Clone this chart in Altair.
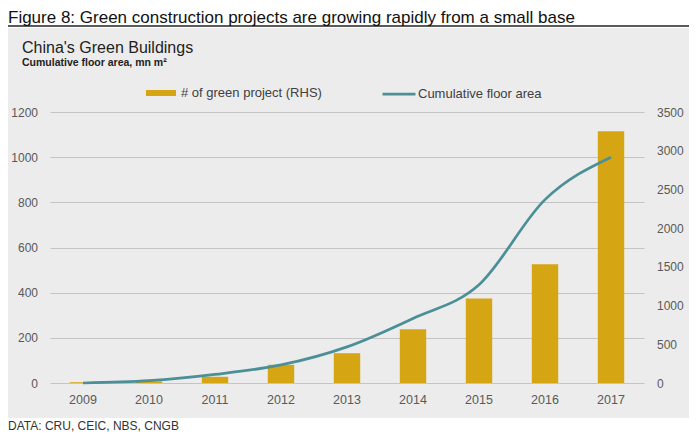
import altair as alt
import pandas as pd

# ---- data ----
years = ["2009", "2010", "2011", "2012", "2013", "2014", "2015", "2016", "2017"]
projects = [10, 20, 80, 235, 385, 695, 1090, 1535, 3250]          # RHS, number of green projects
floor_area = [0, 10, 38, 80, 160, 286, 435, 812, 1000]            # LHS, cumulative floor area, mn m2
left_ticks = [0, 200, 400, 600, 800, 1000, 1200]
right_ticks = [0, 500, 1000, 1500, 2000, 2500, 3000, 3500]
bar_label = "# of green project (RHS)"
line_label = "Cumulative floor area"

FONT = "Liberation Sans"
GOLD = "#d6a514"
TEAL = "#4b8f97"
PANEL = "#ececec"

bar_df = pd.DataFrame({"year": years, "projects": projects, "series": bar_label})
line_df = pd.DataFrame({"year": years, "area": floor_area, "series": line_label})

xenc = alt.X(
    "year:O", sort=years,
    scale=alt.Scale(paddingInner=0.6, paddingOuter=0.3),
    axis=alt.Axis(title=None, labelAngle=0, domain=False, ticks=False, tickSize=0,
                  labelPadding=10, labelFontSize=12.5, labelColor="#595959", labelFont=FONT),
)

bars = alt.Chart(bar_df).mark_bar().encode(
    x=xenc,
    y=alt.Y("projects:Q", scale=alt.Scale(domain=[0, 3500], nice=False),
            axis=alt.Axis(orient="right", values=right_ticks, format="d", grid=False, domain=False,
                          ticks=False, tickSize=0, labelPadding=12.5, title=None,
                          labelFontSize=12, labelColor="#595959", labelFont=FONT)),
    color=alt.Color("series:N", scale=alt.Scale(domain=[bar_label], range=[GOLD]),
                    legend=alt.Legend(orient="none", legendX=96, legendY=-34, direction="horizontal",
                                      title=None, symbolType="M-1,-0.2H1V0.2H-1Z", symbolSize=900,
                                      symbolStrokeWidth=0, labelFont=FONT, labelFontSize=13,
                                      labelColor="#404040", labelOffset=5, padding=0)),
)

line = alt.Chart(line_df).mark_line(strokeWidth=2.75, interpolate="monotone").encode(
    x=xenc,
    y=alt.Y("area:Q", scale=alt.Scale(domain=[0, 1200], nice=False),
            axis=alt.Axis(orient="left", values=left_ticks, format="d", grid=True, gridColor="#c4c4c4",
                          gridWidth=1, domain=False, ticks=False, tickSize=0, labelPadding=12.5,
                          title=None, labelFontSize=12, labelColor="#595959", labelFont=FONT)),
    stroke=alt.Stroke("series:N", scale=alt.Scale(domain=[line_label], range=[TEAL]),
                      legend=alt.Legend(orient="none", legendX=331, legendY=-36, direction="horizontal",
                                        title=None, symbolType="stroke", symbolSize=1089,
                                        symbolStrokeWidth=2.75, labelFont=FONT, labelFontSize=13,
                                        labelColor="#404040", labelOffset=1, padding=0)),
)


def blank(x, x2, y, y2):
    return alt.Chart(pd.DataFrame({"a": [0]})).mark_rect(color="white").encode(
        x=alt.value(x), x2=alt.value(x2), y=alt.value(y), y2=alt.value(y2))


def text(txt, x, y, size, weight="normal", color="#222222"):
    return alt.Chart(pd.DataFrame({"t": [txt]})).mark_text(
        align="left", baseline="alphabetic", font=FONT, fontSize=size,
        fontWeight=weight, color=color).encode(x=alt.value(x), y=alt.value(y), text="t:N")


top_white = blank(-42, 639, -104, -84)
bottom_white = blank(-42, 639, 306, 321)
head_rule = alt.Chart(pd.DataFrame({"a": [0]})).mark_rule(color="#222222", strokeWidth=1.5).encode(
    x=alt.value(-42), x2=alt.value(639), y=alt.value(-86))

fig_title = text("Figure 8: Green construction projects are growing rapidly from a small base",
                 -42, -89.5, 17, color="#111111")
chart_title = text("China's Green Buildings", -28, -59, 16, color="#222222")
chart_sub = text("Cumulative floor area, mn m²", -28, -46.3, 10.5, weight="bold", color="#222222")
source = text("DATA: CRU, CEIC, NBS, CNGB", -42, 318, 12, color="#333333")

chart = alt.layer(
    top_white, bottom_white, head_rule,
    bars, line,
    fig_title, chart_title, chart_sub, source,
).resolve_scale(y="independent").properties(
    width=594, height=271,
    padding={"left": 42, "top": 104, "right": 45, "bottom": 50},
    autosize=alt.AutoSizeParams(type="none"),
    background=PANEL,
).configure_view(stroke=None)

chart.save("out.html", embed_options={"renderer": "svg", "actions": False})
